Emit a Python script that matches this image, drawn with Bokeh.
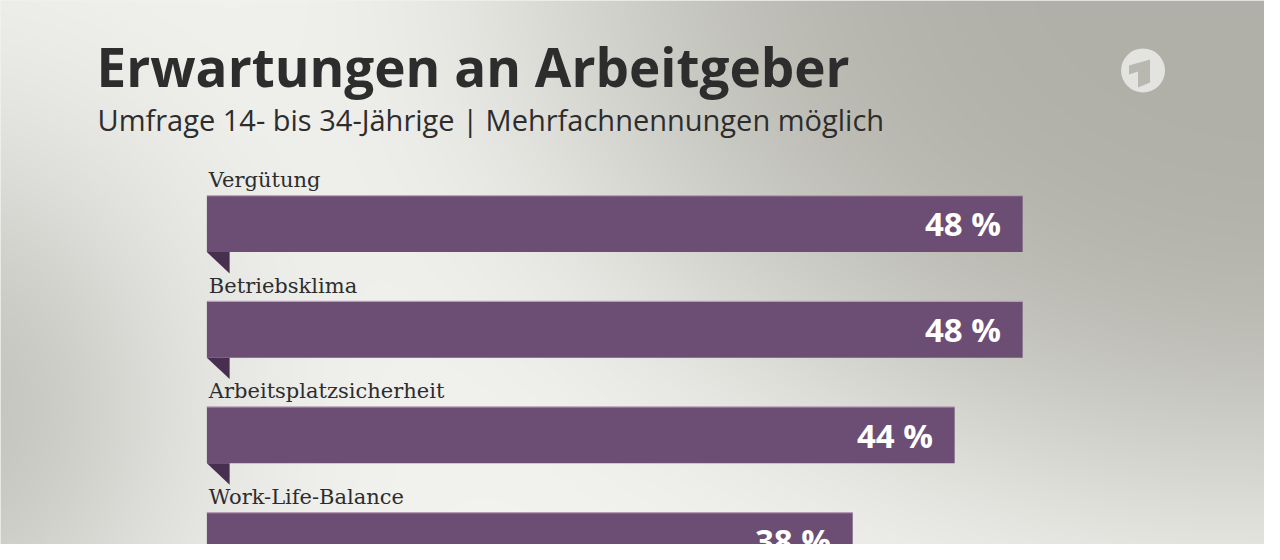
import numpy as np
from bokeh.plotting import figure
from bokeh.models import Range1d, ColumnDataSource
from bokeh.core.properties import value
from bokeh.embed import file_html
from bokeh.resources import INLINE

# ---------------- data ----------------
title_text = "Erwartungen an Arbeitgeber"
subtitle_text = "Umfrage 14- bis 34-Jährige | Mehrfachnennungen möglich"
categories = ["Vergütung", "Betriebsklima", "Arbeitsplatzsicherheit", "Work-Life-Balance"]
values = [48, 48, 44, 38]
value_labels = [f"{v} %" for v in values]

# ---------------- layout constants (reference px scaled to figure) ----------------
FIG_W, FIG_H = 1264, 544
KX, KY = FIG_W / 1280, FIG_H / 560
S = 17.21 * KX        # pixels per percent
R = 108.7 * KY        # pixels per row
X0 = 209 * KX         # bar baseline (px from left)
Y0 = 230 * KY         # centre of first row (px from top)
BAR_H = 58 * KY / R   # in row units

BAR_COLOR = "#6c4e75"
FOLD_COLOR = "#47304f"
TEXT_COLOR = "#2d2d2d"


def px2x(px):
    return (px - X0) / S


def px2y(py):
    return (Y0 - py) / R


p = figure(width=FIG_W, height=FIG_H, output_backend="svg", toolbar_location=None,
           x_range=Range1d(px2x(0), px2x(FIG_W)), y_range=Range1d(px2y(FIG_H), px2y(0)),
           x_axis_type=None, y_axis_type=None, min_border=0)
p.grid.visible = False
p.outline_line_color = None
p.background_fill_color = "#e6e6e2"
p.border_fill_color = "#e6e6e2"

# ---------------- background gradient ----------------
yy, xx = np.mgrid[0:FIG_H, 0:FIG_W].astype(float)
xr, yr = xx / KX, yy / KY          # reference coordinates
light = np.array([243, 243, 240], float)
c_tr = np.array([176, 176, 168], float)
c_l = np.array([197, 197, 192], float)
r1 = ((xr - 1300) / 750) ** 2 + ((yr + 50) / 560) ** 2
g1 = np.exp(-r1 ** 2)
g2 = np.exp(-((xr + 50) / 250) ** 2 - ((yr - 420) / 300) ** 2)
col = light - g1[..., None] * (light - c_tr) - g2[..., None] * (light - c_l)
col = np.clip(col, 0, 255).astype(np.uint8)
img = np.empty((FIG_H, FIG_W), dtype=np.uint32)
view = img.view(dtype=np.uint8).reshape((FIG_H, FIG_W, 4))
view[..., 0] = col[..., 0]
view[..., 1] = col[..., 1]
view[..., 2] = col[..., 2]
view[..., 3] = 255
img = img[::-1]
p.image_rgba(image=[img], x=px2x(0), y=px2y(FIG_H), dw=px2x(FIG_W) - px2x(0),
             dh=px2y(0) - px2y(FIG_H))

# ---------------- bars ----------------
rows = [-i for i in range(len(categories))]
src = ColumnDataSource(dict(
    y=rows, v=values, cat=categories, lab=value_labels,
    top=[r + BAR_H / 2 for r in rows],
    lab_y=[r + BAR_H / 2 + 16 * KY / R for r in rows],
    val_x=[v - 22 * KX / S for v in values],
    zero=[0] * len(values),
))

p.hbar(y="y", left=0, right="v", height=BAR_H, source=src,
       fill_color=BAR_COLOR, line_color=None)
# light top edge of the ribbon
p.segment(x0="zero", y0="top", x1="v", y1="top", source=src,
          line_color="#b79cb7", line_width=1.2)

# folded corner below each ribbon
fw, fh = 23 * KX / S, 22 * KY / R
fold_xs = [[0, fw, fw] for _ in rows]
fold_ys = [[r - BAR_H / 2, r - BAR_H / 2, r - BAR_H / 2 - fh] for r in rows]
p.patches(xs=fold_xs, ys=fold_ys, fill_color=FOLD_COLOR, line_color=None)

# category labels
p.text(x=2 * KX / S, y="lab_y", text="cat", source=src,
       text_font=value("DejaVu Serif"), text_font_size="21px",
       text_color=TEXT_COLOR, text_baseline="middle", text_align="left")

# value labels
p.text(x="val_x", y="y", text="lab", source=src,
       text_font=value("Open Sans"), text_font_size="33px", text_font_style="bold",
       text_color="white", text_baseline="middle", text_align="right")

# ---------------- titles ----------------
p.text(x=[px2x(96)], y=[px2y(67.5 * KY)], text=[title_text],
       text_font=value("Open Sans"), text_font_size="53px", text_font_style="bold",
       text_color=TEXT_COLOR, text_baseline="middle", text_align="left")
p.text(x=[px2x(97)], y=[px2y(122 * KY)], text=[subtitle_text],
       text_font=value("Open Sans"), text_font_size="29px",
       text_color=TEXT_COLOR, text_baseline="middle", text_align="left")

# ---------------- logo ----------------
cx, cy = 1157 * KX, 72 * KY
p.scatter(x=[px2x(cx)], y=[px2y(cy)], size=44, marker="circle",
          fill_color="#e9e9e5", fill_alpha=0.9, line_color=None)
one = [(-14, -5), (7, -11), (7, 12), (-5, 17), (-5, 1), (-14, 4)]
p.patch(x=[px2x(cx + dx) for dx, dy in one], y=[px2y(cy + dy) for dx, dy in one],
        fill_color="#b8b8b0", line_color=None)

open("out.html", "w").write(file_html(p, INLINE))
